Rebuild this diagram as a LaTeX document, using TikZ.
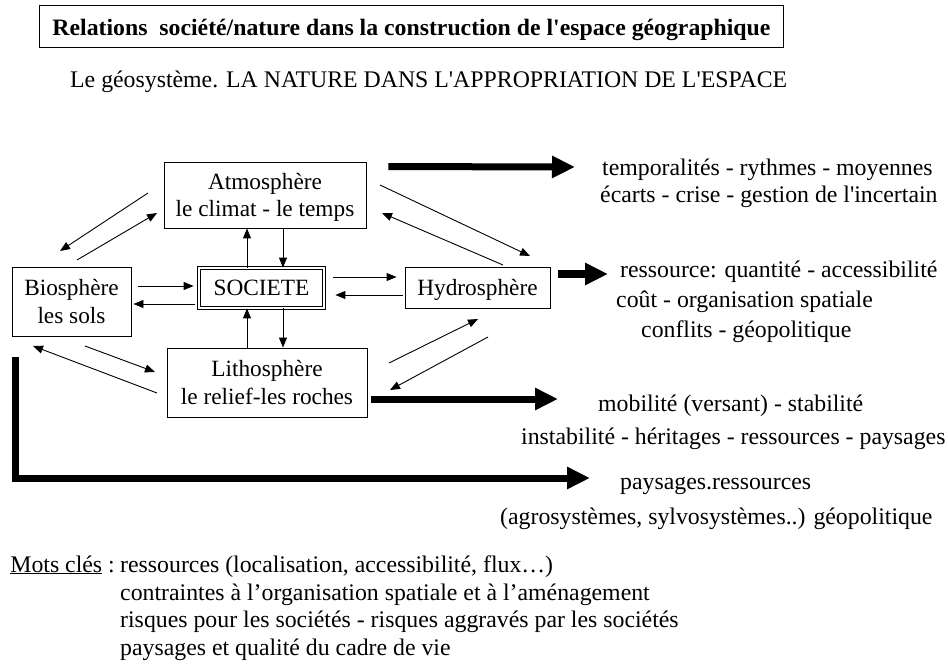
\documentclass[tikz,border=0pt]{standalone}
\usepackage{fontspec}
\usepackage{graphicx}
\setmainfont{Liberation Serif}[Ligatures=TeXOff]
\usetikzlibrary{arrows.meta,calc}
\begin{document}
\begin{tikzpicture}[x=1pt,y=-1pt,
  font=\fontsize{23.3}{27.5}\selectfont,
  box/.style={draw, line width=0.9pt, inner sep=0pt, align=center, text depth=0pt},
  arr/.style={line width=0.9pt, -{Triangle[length=10pt,width=8pt]}},
  heavy/.style={line width=7pt, line join=miter, -{Triangle[length=23pt,width=21pt]}},
  lbl/.style={inner sep=0pt, anchor=base west, font=\fontsize{23.8}{27.5}\selectfont}]
\useasboundingbox (0,0) rectangle (948,671);
\fill[white] (0,0) rectangle (948,671);

% title
\node[draw, line width=0.9pt, anchor=north west, minimum width=744pt, minimum height=42pt,
      inner sep=0pt, text height=20pt, text depth=2pt,
      font=\fontsize{23.5}{27}\selectfont\bfseries] (title) at (39,5)
      {\resizebox{718pt}{\height}{Relations\ \ société/nature dans la construction de l'espace géographique}};
\node[lbl] (sub) at (70,88) {Le géosystème. LA NATURE DANS L'APPROPRIATION DE L'ESPACE};

% boxes
\node[box, minimum width=202pt, minimum height=66pt] (atm) at (265,195) {Atmosphère\\le climat - le temps};
\node[box, minimum width=119pt, minimum height=69pt] (bio) at (71.5,301.5) {Biosphère\\les sols};
\node[box, double, double distance=2.2pt, line width=0.8pt, minimum width=125pt, minimum height=40pt] (soc) at (261.5,288) {SOCIETE};
\node[box, minimum width=145pt, minimum height=41pt] (hyd) at (477.5,287.5) {Hydrosphère};
\node[box, minimum width=200pt, minimum height=69pt] (lit) at (267,382.5) {Lithosphère\\le relief-les roches};

% horizontal arrows around SOCIETE
\draw[arr] ($(bio.east)+(7,-15.5)$) -- ($(soc.west)+(-5,-2)$);
\draw[arr] ($(soc.west)+(-4,16)$) -- ($(bio.east)+(2,2.5)$);
\draw[arr] ($(soc.east)+(9,-11)$) -- ($(hyd.west)+(-8,-10.5)$);
\draw[arr] ($(hyd.west)+(-2,7.5)$) -- ($(soc.east)+(11,7)$);
% vertical arrows
\draw[arr] ($(soc.north)+(-14.5,0)$) -- ($(atm.south)+(-18,0)$);
\draw[arr] ($(atm.south)+(18,0)$) -- ($(soc.north)+(21.5,0)$);
\draw[arr] ($(lit.north)+(-20,0)$) -- ($(soc.south)+(-14.5,0)$);
\draw[arr] ($(soc.south)+(21.5,0)$) -- ($(lit.north)+(16,0)$);

% diagonal arrows
\coordinate (d1s) at (148,193); \coordinate (d1e) at (60,251);
\coordinate (d2s) at (77,260);  \coordinate (d2e) at (157,213);
\coordinate (d3s) at (380,185); \coordinate (d3e) at (530,256);
\coordinate (d4s) at (503,265); \coordinate (d4e) at (382,213);
\coordinate (d5s) at (85,346);  \coordinate (d5e) at (155,372);
\coordinate (d6s) at (157,393); \coordinate (d6e) at (33,346);
\coordinate (d7s) at (389,363); \coordinate (d7e) at (478,319);
\coordinate (d8s) at (488,337); \coordinate (d8e) at (390,390);
\draw[arr] (d1s) -- (d1e);
\draw[arr] (d2s) -- (d2e);
\draw[arr] (d3s) -- (d3e);
\draw[arr] (d4s) -- (d4e);
\draw[arr] (d5s) -- (d5e);
\draw[arr] (d6s) -- (d6e);
\draw[arr] (d7s) -- (d7e);
\draw[arr] (d8s) -- (d8e);

% heavy arrows
\coordinate (h1e) at (575,167);
\coordinate (h2e) at (608,274);
\coordinate (h3e) at (558,399);
\coordinate (h4a) at (15,357);
\coordinate (h4b) at (15,478);
\coordinate (h4c) at (590,478);
\draw[heavy] ($(atm.north east)+(22,5)$) -- (h1e);
\draw[heavy] ($(hyd.east)+(8,-13.5)$) -- (h2e);
\draw[heavy] ($(lit.east)+(4,16.5)$) -- (h3e);
\draw[heavy] (h4a) -- (h4b) -- (h4c);

% right-hand texts
\node[lbl] (t1a) at (602,176) {temporalités - rythmes - moyennes};
\node[lbl] (t1b) at (600,203) {écarts - crise - gestion de l'incertain};
\node[lbl] (t2a) at (620,277) {ressource: quantité - accessibilité};
\node[lbl] (t2b) at (616,307) {coût - organisation spatiale};
\node[lbl] (t2c) at (641,337) {conflits - géopolitique};
\node[lbl] (t3a) at (598,411) {mobilité (versant) - stabilité};
\node[lbl] (t3b) at (521,444) {instabilité - héritages - ressources - paysages};
\node[lbl] (t4a) at (620,489) {paysages.ressources};
\node[lbl] (t4b) at (500,524) {(agrosystèmes, sylvosystèmes..) géopolitique};

% keywords
\node[inner sep=0pt, anchor=base east, font=\fontsize{23.8}{27.5}\selectfont] (mk) at (115,572) {\underline{Mots clés} :};
\node[lbl] (m1) at (120,572) {ressources (localisation, accessibilité, flux…)};
\node[lbl] (m2) at (120,600) {contraintes à l’organisation spatiale et à l’aménagement};
\node[lbl] (m3) at (120,627) {risques pour les sociétés - risques aggravés par les sociétés};
\node[lbl] (m4) at (120,655) {paysages et qualité du cadre de vie};
\end{tikzpicture}
\end{document}
